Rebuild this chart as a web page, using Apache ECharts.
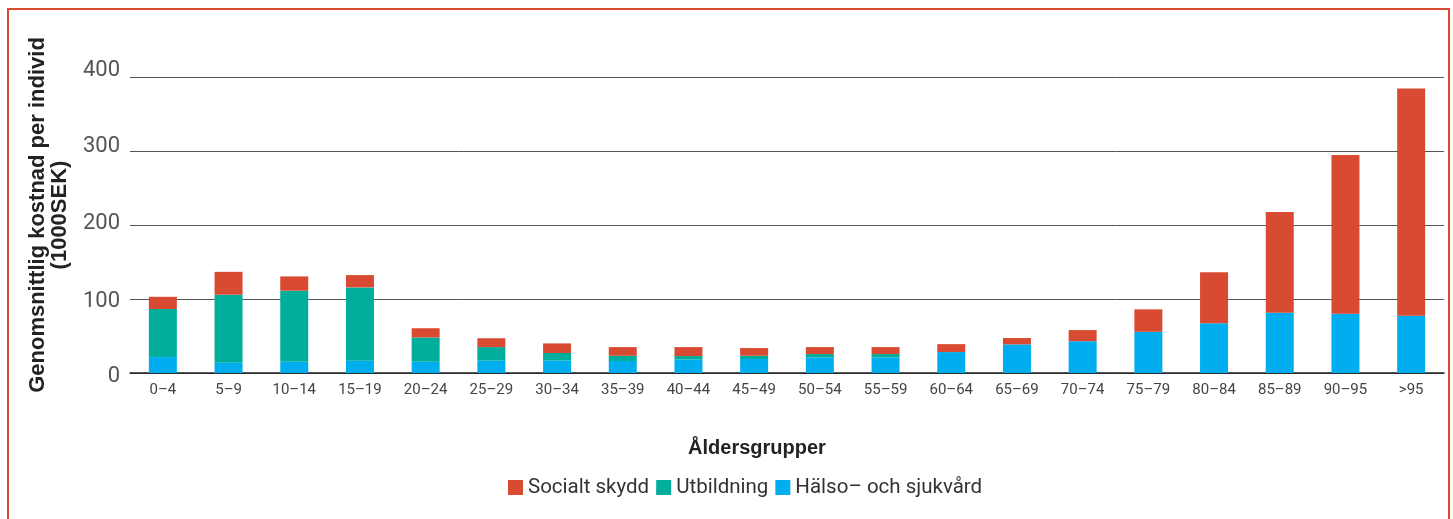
<!DOCTYPE html>
<html>
<head>
<meta charset="utf-8">
<script src="https://cdn.jsdelivr.net/npm/echarts@6/dist/echarts.min.js"></script>
<style>
  html, body { margin: 0; padding: 0; background: #fff; }
  #chart { width: 1453px; height: 519px; }
</style>
</head>
<body>
<div id="chart"></div>
<script>
var categories = ['0–4', '5–9', '10–14', '15–19', '20–24', '25–29', '30–34', '35–39', '40–44', '45–49',
    '50–54', '55–59', '60–64', '65–69', '70–74', '75–79', '80–84', '85–89', '90–95', '>95'];
// Hälso- och sjukvård (bottom)
var halsa = [21.5, 13.9, 15.2, 16.6, 15.2, 16.6, 17, 16.2, 18.3, 18.9, 21.1, 21.1, 28.3, 38.7, 43, 55.7, 67.3, 81.3, 79.9, 77.4];
// Utbildning (middle)
var utbildning = [65, 91.9, 96, 99.1, 32.8, 18.4, 10, 7.1, 4.6, 4.4, 4.5, 4.5, 0, 0, 0, 0, 0, 0, 0, 0];
// Socialt skydd (top)
var socialt = [16.5, 30.9, 19.3, 16.6, 12.5, 12, 13, 11.7, 12.1, 10.4, 9.4, 9.4, 10.7, 8.6, 15, 30.3, 68.7, 136.3, 214.7, 307.2];
var yTicks = [0, 100, 200, 300, 400];

var chart = echarts.init(document.getElementById('chart'));

// the original's tick labels drift a little off their gridlines
var labelFont = { fontFamily: 'Roboto', fontSize: 22, color: '#555' };
var yRich = {
    t0: Object.assign({ padding: [7, 0, 0, 0] }, labelFont),
    t100: Object.assign({ padding: [5, 0, 0, 0] }, labelFont),
    t200: Object.assign({ padding: [0, 0, 4, 0] }, labelFont),
    t300: Object.assign({ padding: [0, 0, 10, 0] }, labelFont),
    t400: Object.assign({ padding: [0, 0, 13, 0] }, labelFont)
};

var option = {
    animation: false,
    color: ['#d84a32', '#00ae9b', '#00aeef'],
    graphic: [{
        type: 'rect',
        shape: { x: 8, y: 9, width: 1441, height: 600 },
        style: { fill: 'none', stroke: '#d84a32', lineWidth: 2 },
        silent: true
    }, {
        // y axis title, two lines, rotated
        type: 'text',
        x: 49,
        y: 215,
        rotation: Math.PI / 2,
        style: {
            text: 'Genomsnittlig kostnad per individ\n(1000SEK)',
            fontFamily: 'Liberation Sans',
            fontWeight: 'bold',
            fontSize: 22,
            lineHeight: 22,
            fill: '#222',
            align: 'center',
            verticalAlign: 'middle'
        },
        silent: true
    }],
    legend: {
        data: ['Socialt skydd', 'Utbildning', 'Hälso– och sjukvård'],
        left: 503,
        top: 472,
        itemWidth: 15,
        itemHeight: 15,
        itemGap: 7,
        icon: 'rect',
        textStyle: { fontFamily: 'Roboto', fontSize: 20.5, color: '#333' }
    },
    grid: { left: 130, right: 9, top: 77, bottom: 146 },
    xAxis: {
        type: 'category',
        data: categories,
        name: 'Åldersgrupper',
        nameLocation: 'middle',
        nameGap: 65,
        nameTextStyle: { fontFamily: 'Liberation Sans', fontWeight: 'bold', fontSize: 20, color: '#222', padding: [0, 60, 0, 0] },
        axisLine: { lineStyle: { color: '#222', width: 1.5 } },
        axisTick: { show: false },
        axisLabel: { fontFamily: 'Roboto', fontSize: 15, color: '#444', margin: 10 }
    },
    yAxis: {
        type: 'value',
        min: yTicks[0],
        max: yTicks[yTicks.length - 1],
        interval: 100,
        axisLine: { show: false },
        axisTick: { show: false },
        axisLabel: {
            fontFamily: 'Roboto', fontSize: 22, color: '#555', margin: 10,
            formatter: function (v) { return '{t' + v + '|' + v + '}'; },
            rich: yRich
        },
        splitLine: { lineStyle: { color: '#555', width: 1 } }
    },
    series: [
        { name: 'Hälso– och sjukvård', type: 'bar', stack: 'total', barWidth: 28, data: halsa, color: '#00aeef' },
        { name: 'Utbildning', type: 'bar', stack: 'total', barWidth: 28, data: utbildning, color: '#00ae9b' },
        { name: 'Socialt skydd', type: 'bar', stack: 'total', barWidth: 28, data: socialt, color: '#d84a32' }
    ]
};
chart.setOption(option);
</script>
</body>
</html>
